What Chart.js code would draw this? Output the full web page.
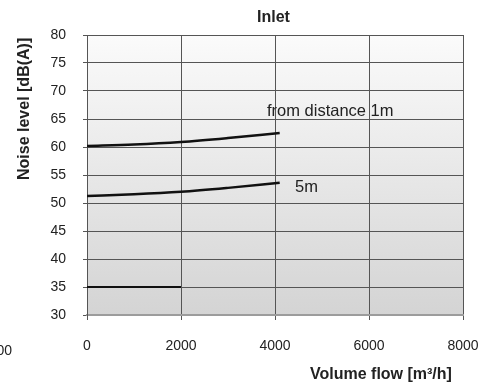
<!DOCTYPE html>
<html>
<head>
<meta charset="utf-8">
<script src="https://cdn.jsdelivr.net/npm/chart.js@4"></script>
<style>
html,body{margin:0;padding:0;background:#fff;}
canvas{display:block;}
</style>
</head>
<body>
<canvas id="c" width="494" height="383"></canvas>
<script>
// ---- data ----
const flow1m  = [0, 1000, 2000, 3000, 4100];
const noise1m = [60.2, 60.45, 60.9, 61.6, 62.5];
const flow5m  = [0, 1000, 2000, 3000, 4100];
const noise5m = [51.25, 51.55, 52.0, 52.7, 53.6];
const flowMin = [0, 2000];
const noiseMin = [35, 35];
const xTicks = [0, 2000, 4000, 6000, 8000];
const yTicks = [30, 35, 40, 45, 50, 55, 60, 65, 70, 75, 80];
const chartTitle = "Inlet";
const xTitle = "Volume flow [m³/h]";
const yTitle = "Noise level [dB(A)]";
const label1m = "from distance 1m";
const label5m = "5m";
const strayLabel = "8000";

const toPts = (xs, ys) => xs.map((x, i) => ({x: x, y: ys[i]}));
const FONT = "'Liberation Sans', Arial, sans-serif";

const bgPlugin = {
  id: 'bg',
  beforeDraw(chart) {
    const {ctx, chartArea: a} = chart;
    const g = ctx.createLinearGradient(0, a.top, 0, a.bottom);
    g.addColorStop(0, '#fbfbfb');
    g.addColorStop(1, '#d4d4d4');
    ctx.save();
    ctx.fillStyle = g;
    ctx.fillRect(a.left, a.top, a.right - a.left, a.bottom - a.top);
    ctx.restore();
  }
};

const textPlugin = {
  id: 'texts',
  afterDraw(chart) {
    const ctx = chart.ctx;
    ctx.save();
    ctx.fillStyle = '#222';
    ctx.textBaseline = 'alphabetic';
    ctx.textAlign = 'left';
    ctx.font = "bold 16px " + FONT;
    ctx.fillText(chartTitle, 257, 22);
    ctx.fillText(xTitle, 310, 379);
    ctx.save();
    ctx.translate(29, 180);
    ctx.rotate(-Math.PI / 2);
    ctx.fillText(yTitle, 0, 0);
    ctx.restore();
    ctx.font = "16.5px " + FONT;
    ctx.fillText(label1m, 267, 116);
    ctx.fillText(label5m, 295, 192);
    ctx.font = "14px " + FONT;
    ctx.textAlign = 'right';
    ctx.fillText(strayLabel, 12, 355);
    ctx.restore();
  }
};

const lineDs = (pts, w) => ({
  data: pts, showLine: true, borderColor: '#111', borderWidth: w,
  pointRadius: 0, tension: 0.4, cubicInterpolationMode: 'monotone', fill: false
});

new Chart(document.getElementById('c'), {
  type: 'scatter',
  data: {
    datasets: [
      lineDs(toPts(flow1m, noise1m), 2.5),
      lineDs(toPts(flow5m, noise5m), 2.5),
      lineDs(toPts(flowMin, noiseMin), 2)
    ]
  },
  options: {
    responsive: false,
    animation: false,
    layout: {padding: {top: 35, right: 31, left: 0, bottom: 0}},
    plugins: {legend: {display: false}, tooltip: {enabled: false}, title: {display: false}},
    scales: {
      x: {
        type: 'linear', min: 0, max: 8000,
        afterBuildTicks: s => { s.ticks = xTicks.map(v => ({value: v})); },
        afterFit: s => { s.height = 68; s.paddingLeft = 0; s.paddingRight = 0; },
        ticks: {color: '#222', font: {family: FONT, size: 14}, padding: 18, maxRotation: 0,
                callback: v => String(v)},
        grid: {color: '#555', lineWidth: 1, tickLength: 5, tickColor: '#555'},
        border: {color: '#9c9c9c', width: 2}
      },
      y: {
        type: 'linear', min: 30, max: 80,
        afterBuildTicks: s => { s.ticks = yTicks.map(v => ({value: v})); },
        afterFit: s => { s.width = 87; s.paddingTop = 0; s.paddingBottom = 0; },
        ticks: {color: '#222', font: {family: FONT, size: 14}, padding: 17,
                callback: v => String(v)},
        grid: {color: '#555', lineWidth: 1, tickLength: 4, tickColor: '#555'},
        border: {color: '#555', width: 1}
      }
    }
  },
  plugins: [bgPlugin, textPlugin]
});
</script>
</body>
</html>
